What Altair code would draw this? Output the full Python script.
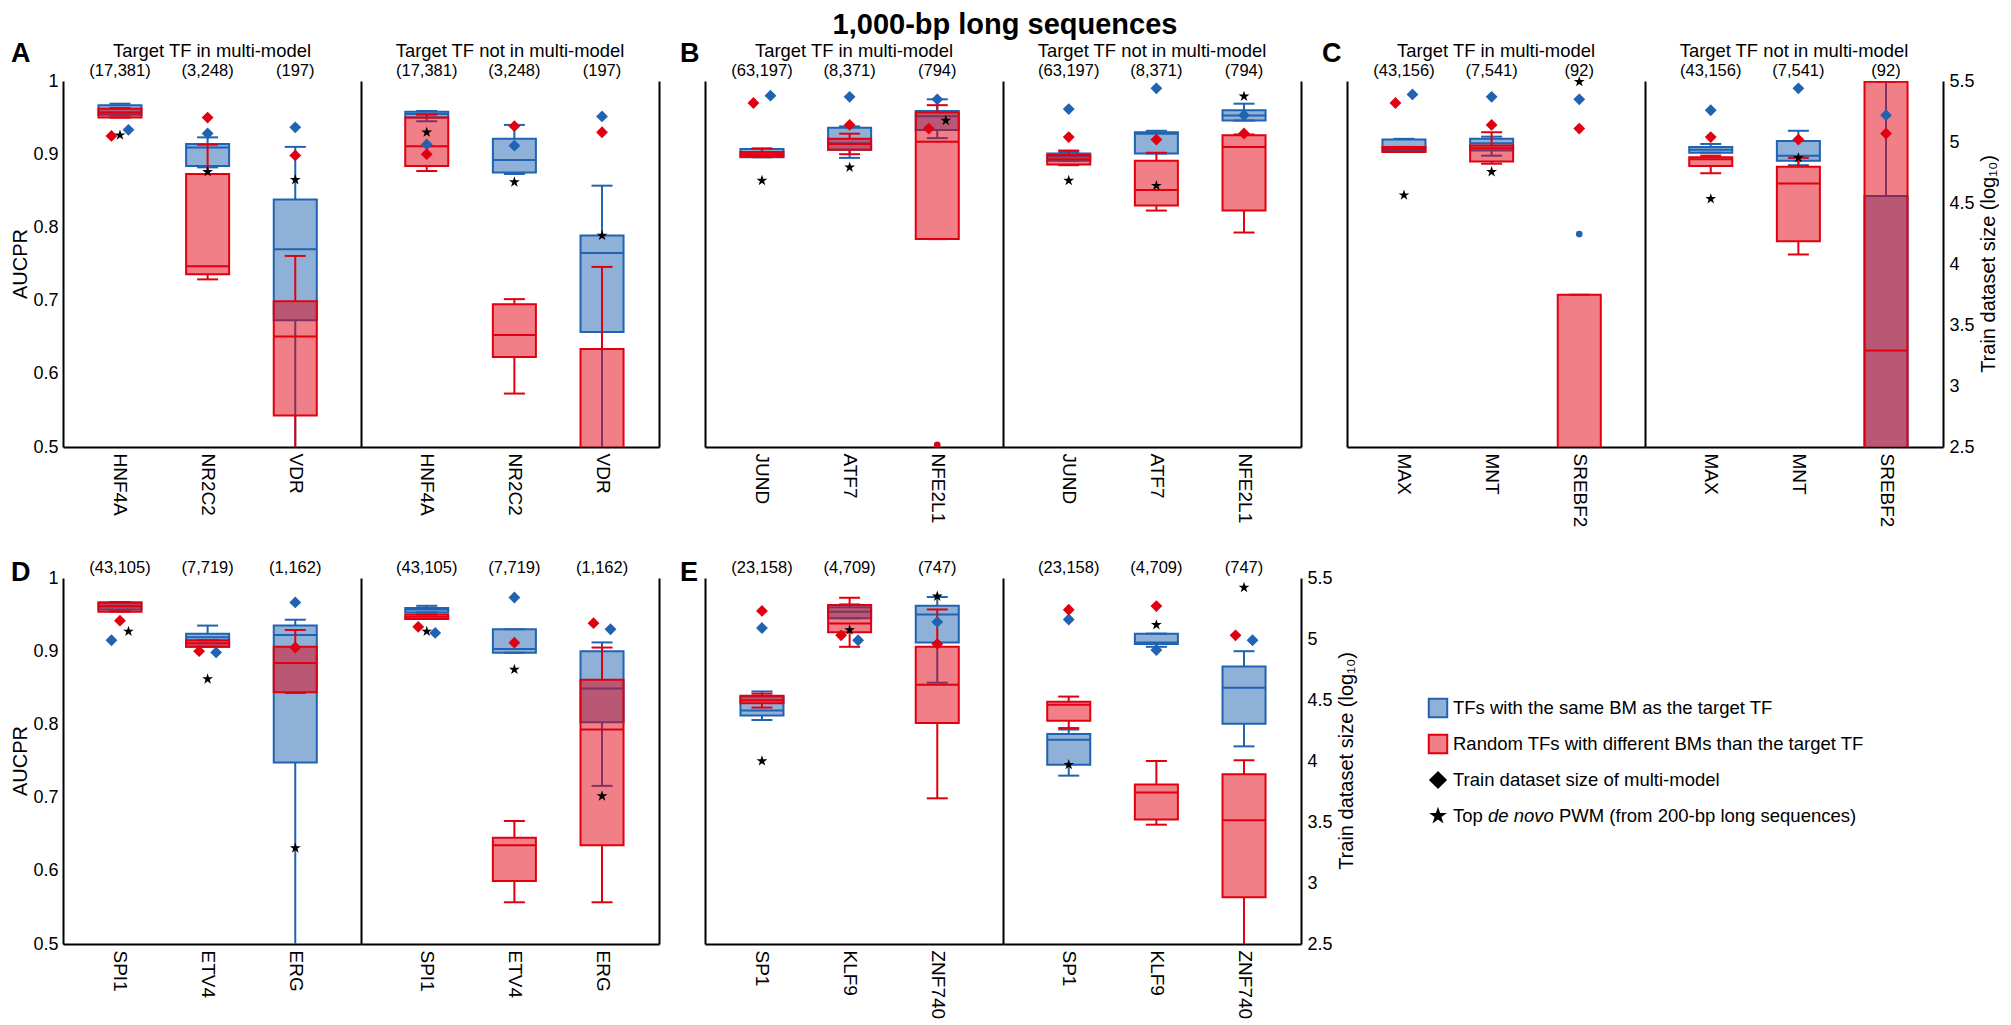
import json

import altair as alt
import pandas as pd

FONT = "Liberation Sans"
BLUE = "#1f63b1"
RED = "#e1000f"
STAR = ("M0,-1L0.2245,-0.309L0.951,-0.309L0.363,0.118L0.588,0.809L0,0.382"
        "L-0.588,0.809L-0.363,0.118L-0.951,-0.309L-0.2245,-0.309Z")

# ---- values ----
# boxes: [min, q1, median, q3, max] of AUCPR per TF (below 0.5 runs off the axis)
# diamonds: log10 train dataset size of the multi-model (right-hand scale)
# stars: AUCPR of the top de novo PWM

TITLE = "1,000-bp long sequences"
SUB_IN = "Target TF in multi-model"
SUB_OUT = "Target TF not in multi-model"
Y_TITLE = "AUCPR"
SIZE_TITLE = "Train dataset size (log₁₀)"
Y_TICKS = [0.5, 0.6, 0.7, 0.8, 0.9, 1.0]
SIZE_TICKS = [2.5, 3.0, 3.5, 4.0, 4.5, 5.0, 5.5]

TFS_A = ["HNF4A", "NR2C2", "VDR"]
COUNTS_A = ["(17,381)", "(3,248)", "(197)"]
A_IN_BLUE = [[0.953, 0.954, 0.957, 0.967, 0.969], [0.882, 0.884, 0.909, 0.914, 0.923], [0.40, 0.673, 0.770, 0.838, 0.910]]
A_IN_RED = [[0.950, 0.950, 0.957, 0.962, 0.963], [0.729, 0.736, 0.747, 0.873, 0.913], [0.40, 0.543, 0.651, 0.699, 0.761]]
A_IN_STAR = [0.926, 0.876, 0.865]
A_IN_DIA_BLUE = [5.10, 5.07, 5.12]
A_IN_DIA_RED = [5.05, 5.20, 4.89]
A_OUT_BLUE = [[0.945, 0.950, 0.955, 0.958, 0.959], [0.873, 0.875, 0.892, 0.921, 0.940], [0.40, 0.657, 0.765, 0.789, 0.857]]
A_OUT_RED = [[0.877, 0.884, 0.911, 0.950, 0.954], [0.573, 0.623, 0.653, 0.695, 0.702], [0.40, 0.42, 0.45, 0.634, 0.746]]
A_OUT_STAR = [0.930, 0.862, 0.789]
A_OUT_DIA_BLUE = [4.98, 4.97, 5.21]
A_OUT_DIA_RED = [4.90, 5.13, 5.08]

TFS_B = ["JUND", "ATF7", "NFE2L1"]
COUNTS_B = ["(63,197)", "(8,371)", "(794)"]
B_IN_BLUE = [[0.896, 0.896, 0.899, 0.907, 0.907], [0.895, 0.906, 0.915, 0.936, 0.938], [0.922, 0.933, 0.952, 0.959, 0.975]]
B_IN_RED = [[0.896, 0.897, 0.900, 0.903, 0.908], [0.900, 0.906, 0.914, 0.921, 0.928], [0.784, 0.784, 0.917, 0.957, 0.967]]
B_IN_RED_DOTS = [None, None, 0.503]
B_IN_STAR = [0.864, 0.882, 0.946]
B_IN_DIA_BLUE = [5.38, 5.37, 5.35]
B_IN_DIA_RED = [5.32, 5.14, 5.11]
B_OUT_BLUE = [[0.891, 0.891, 0.897, 0.901, 0.903], [0.901, 0.901, 0.928, 0.930, 0.932], [0.946, 0.946, 0.953, 0.960, 0.969]]
B_OUT_RED = [[0.885, 0.886, 0.893, 0.899, 0.905], [0.823, 0.830, 0.851, 0.891, 0.902], [0.793, 0.823, 0.910, 0.926, 0.927]]
B_OUT_STAR = [0.864, 0.857, 0.979]
B_OUT_DIA_BLUE = [5.27, 5.44, 5.22]
B_OUT_DIA_RED = [5.04, 5.02, 5.07]

TFS_C = ["MAX", "MNT", "SREBF2"]
COUNTS_C = ["(43,156)", "(7,541)", "(92)"]
C_IN_BLUE = [[0.905, 0.905, 0.907, 0.920, 0.921], [0.898, 0.905, 0.915, 0.921, 0.924], None]
C_IN_BLUE_DOTS = [None, None, 0.791]
C_IN_RED = [[0.903, 0.903, 0.907, 0.910, 0.910], [0.887, 0.890, 0.908, 0.912, 0.930], [0.40, 0.40, 0.45, 0.708, 0.708]]
C_IN_STAR = [0.844, 0.876, 0.999]
C_IN_DIA_BLUE = [5.39, 5.37, 5.35]
C_IN_DIA_RED = [5.32, 5.14, 5.11]
C_OUT_BLUE = [[0.902, 0.902, 0.906, 0.910, 0.914], [0.885, 0.891, 0.898, 0.918, 0.932], [0.40, 0.40, 0.45, 0.843, 1.0]]
C_OUT_RED = [[0.874, 0.884, 0.893, 0.896, 0.898], [0.763, 0.781, 0.860, 0.883, 0.895], [0.40, 0.40, 0.632, 0.999, 0.999]]
C_OUT_STAR = [0.839, 0.895, None]
C_OUT_DIA_BLUE = [5.26, 5.44, 5.22]
C_OUT_DIA_RED = [5.04, 5.02, 5.07]

TFS_D = ["SPI1", "ETV4", "ERG"]
COUNTS_D = ["(43,105)", "(7,719)", "(1,162)"]
D_IN_BLUE = [[0.955, 0.957, 0.962, 0.966, 0.967], [0.906, 0.906, 0.919, 0.924, 0.935], [0.40, 0.748, 0.922, 0.935, 0.943]]
D_IN_RED = [[0.954, 0.954, 0.961, 0.967, 0.967], [0.906, 0.906, 0.911, 0.915, 0.915], [0.843, 0.844, 0.884, 0.906, 0.929]]
D_IN_STAR = [0.927, 0.862, 0.631]
D_IN_DIA_BLUE = [4.99, 4.89, 5.30]
D_IN_DIA_RED = [5.15, 4.90, 4.93]
D_OUT_BLUE = [[0.953, 0.953, 0.957, 0.959, 0.962], [0.898, 0.898, 0.903, 0.930, 0.930], [0.716, 0.803, 0.849, 0.900, 0.912]]
D_OUT_RED = [[0.944, 0.944, 0.947, 0.950, 0.950], [0.557, 0.586, 0.635, 0.645, 0.668], [0.557, 0.635, 0.793, 0.861, 0.905]]
D_OUT_STAR = [0.927, 0.875, 0.702]
D_OUT_DIA_BLUE = [5.05, 5.34, 5.08]
D_OUT_DIA_RED = [5.10, 4.97, 5.13]

TFS_E = ["SP1", "KLF9", "ZNF740"]
COUNTS_E = ["(23,158)", "(4,709)", "(747)"]
E_IN_BLUE = [[0.806, 0.812, 0.819, 0.838, 0.845], [0.945, 0.945, 0.954, 0.960, 0.964], [0.857, 0.912, 0.950, 0.962, 0.974]]
E_IN_RED = [[0.823, 0.829, 0.833, 0.839, 0.842], [0.906, 0.926, 0.938, 0.963, 0.973], [0.699, 0.802, 0.854, 0.906, 0.957]]
E_IN_STAR = [0.750, 0.929, 0.975]
E_IN_DIA_BLUE = [5.09, 4.99, 5.14]
E_IN_DIA_RED = [5.23, 5.03, 4.96]
E_OUT_BLUE = [[0.730, 0.745, 0.779, 0.787, 0.793], [0.906, 0.910, 0.912, 0.924, 0.924], [0.770, 0.801, 0.850, 0.879, 0.900]]
E_OUT_RED = [[0.795, 0.805, 0.827, 0.831, 0.838], [0.663, 0.670, 0.707, 0.718, 0.750], [0.40, 0.564, 0.669, 0.732, 0.751]]
E_OUT_STAR = [0.745, 0.936, 0.987]
E_OUT_DIA_BLUE = [5.16, 4.91, 4.99]
E_OUT_DIA_RED = [5.24, 5.27, 5.03]

LEGEND_LABELS = [
    "TFs with the same BM as the target TF",
    "Random TFs with different BMs than the target TF",
    "Train dataset size of multi-model",
    "Top",
]
LEGEND_ITALIC = "de novo"
LEGEND_TAIL = "PWM (from 200-bp long sequences)"

# ---- layout ----
W, H = 298, 366
STEP = 87.6
IN_DOMAIN = [-0.65, 2.75]
OUT_DOMAIN = [-0.75, 2.65]
BOX_HALF = 21.5 / STEP
CAP_HALF = 10.5 / STEP
DODGE = 8.5 / STEP
NEAR = 0.0125


def to_auc(size):
    # right axis 2.5..5.5 sits on the same height as AUCPR 0.5..1
    return 0.5 + (size - 2.5) / 6


def dodge(star, d_blue, d_red):
    off = {"blue": 0, "red": 0, "star": 0}
    if abs(to_auc(d_blue) - to_auc(d_red)) < NEAR:
        off["red"], off["blue"] = -1, 1
    elif star is not None:
        for key, d in (("red", d_red), ("blue", d_blue)):
            if off["star"] == 0 and abs(to_auc(d) - star) < NEAR:
                off[key], off["star"] = -1, 1
    return off


def box_frames(stats_list):
    boxes, whiskers, caps = [], [], []
    for i, s in enumerate(stats_list):
        if s is None:
            continue
        lo, q1, med, q3, hi = s
        boxes.append({"x1": i - BOX_HALF, "x2": i + BOX_HALF, "q1": q1, "q3": q3, "med": med})
        whiskers += [{"xc": i, "y1": lo, "y2": q1}, {"xc": i, "y1": q3, "y2": hi}]
        caps += [{"x1": i - CAP_HALF, "x2": i + CAP_HALF, "y": lo},
                 {"x1": i - CAP_HALF, "x2": i + CAP_HALF, "y": hi}]
    return pd.DataFrame(boxes), pd.DataFrame(whiskers), pd.DataFrame(caps)


def label_mark(text, x, y, size, **kw):
    return alt.Chart(pd.DataFrame({"t": [text]})).mark_text(
        font=FONT, fontSize=size, color="black", **kw).encode(
        x=alt.value(x), y=alt.value(y), text="t:N")


def subpanel(tfs, counts, blue, red, stars, dia_blue, dia_red, side,
             letter=None, letter_x=-25, letter_y=-19, y_labels=False,
             size_labels=False, title=None, blue_dots=None, red_dots=None):
    domain = IN_DOMAIN if side == "in" else OUT_DOMAIN
    x_axis = alt.Axis(values=[0, 1, 2], labelExpr=f"{json.dumps(tfs)}[datum.value]",
                      labelAngle=90, labelFontSize=19, labelPadding=6, labelOverlap=False,
                      labelFlush=False, ticks=False, grid=False, domainColor="black",
                      domainWidth=2, title=None)
    y_axis = alt.Axis(values=Y_TICKS, format=".1~f", labels=y_labels, ticks=False, grid=False,
                      domainColor="black", domainWidth=2, labelFontSize=18, labelPadding=5,
                      title=None)

    def X(field):
        return alt.X(f"{field}:Q", scale=alt.Scale(domain=domain, nice=False, zero=False), axis=x_axis)

    def Y(field):
        return alt.Y(f"{field}:Q", scale=alt.Scale(domain=[0.5, 1.0], nice=False, zero=False), axis=y_axis)

    layers = []
    for stats_list, color in ((blue, BLUE), (red, RED)):
        boxes, whiskers, caps = box_frames(stats_list)
        layers += [
            alt.Chart(whiskers).mark_rule(color=color, strokeWidth=2, clip=True).encode(
                x=X("xc"), y=Y("y1"), y2="y2:Q"),
            alt.Chart(caps).mark_rule(color=color, strokeWidth=2, clip=True).encode(
                x=X("x1"), x2="x2:Q", y=Y("y")),
            alt.Chart(boxes).mark_rect(fill=color, fillOpacity=0.5, stroke=color, strokeWidth=2,
                                       clip=True).encode(x=X("x1"), x2="x2:Q", y=Y("q1"), y2="q3:Q"),
            alt.Chart(boxes).mark_rule(color=color, strokeWidth=2, clip=True).encode(
                x=X("x1"), x2="x2:Q", y=Y("med")),
        ]
    for dots, color in ((blue_dots, BLUE), (red_dots, RED)):
        if dots:
            df = pd.DataFrame([{"x": i, "v": v} for i, v in enumerate(dots) if v is not None])
            layers.append(alt.Chart(df).mark_circle(color=color, size=45, opacity=1, clip=True).encode(
                x=X("x"), y=Y("v")))

    star_rows, dia_rows = [], []
    for i in range(3):
        off = dodge(stars[i], dia_blue[i], dia_red[i])
        if stars[i] is not None:
            star_rows.append({"x": i + off["star"] * DODGE, "v": stars[i]})
        dia_rows.append({"x": i + off["blue"] * DODGE, "size": dia_blue[i], "grp": "blue"})
        dia_rows.append({"x": i + off["red"] * DODGE, "size": dia_red[i], "grp": "red"})

    layers.append(alt.Chart(pd.DataFrame(star_rows)).mark_point(
        shape=STAR, filled=True, color="black", size=130, opacity=1).encode(x=X("x"), y=Y("v")))

    layers.append(alt.Chart(pd.DataFrame({"xc": [0, 1, 2], "label": counts})).mark_text(
        font=FONT, fontSize=16.5, baseline="bottom", color="black").encode(
        x=X("xc"), y=alt.value(-2), text="label:N"))

    if title:
        layers.append(label_mark(title, W / 2, -24, 18.4, align="center", baseline="alphabetic"))
    if letter:
        layers.append(label_mark(letter, letter_x, letter_y, 27, fontWeight="bold",
                                 align="left", baseline="alphabetic"))
    if y_labels:
        layers.append(label_mark(Y_TITLE, -42, H / 2, 20, angle=270, align="center",
                                 baseline="middle"))
    if size_labels:
        layers.append(label_mark(SIZE_TITLE, W + 46, H / 2, 20, angle=270, align="center",
                                 baseline="middle"))

    if side == "in":
        size_axis = None
    else:
        size_axis = alt.Axis(orient="right", values=SIZE_TICKS, format=".1~f", labels=size_labels,
                             ticks=False, grid=False, domainColor="black", domainWidth=2,
                             labelFontSize=18, labelPadding=6, title=None)
    diamonds = alt.Chart(pd.DataFrame(dia_rows)).mark_point(
        shape="diamond", filled=True, size=140, opacity=1).encode(
        x=X("x"),
        y=alt.Y("size:Q", scale=alt.Scale(domain=[2.5, 5.5], nice=False, zero=False), axis=size_axis),
        color=alt.Color("grp:N", scale=alt.Scale(domain=["blue", "red"], range=[BLUE, RED]), legend=None),
    )

    chart = alt.layer(alt.layer(*layers), diamonds).resolve_scale(y="independent")
    return chart.properties(width=W, height=H)


A_in = subpanel(TFS_A, COUNTS_A, A_IN_BLUE, A_IN_RED, A_IN_STAR, A_IN_DIA_BLUE, A_IN_DIA_RED, "in",
                letter="A", letter_x=-52, y_labels=True, title=SUB_IN)
A_out = subpanel(TFS_A, COUNTS_A, A_OUT_BLUE, A_OUT_RED, A_OUT_STAR, A_OUT_DIA_BLUE, A_OUT_DIA_RED,
                 "out", title=SUB_OUT)
B_in = subpanel(TFS_B, COUNTS_B, B_IN_BLUE, B_IN_RED, B_IN_STAR, B_IN_DIA_BLUE, B_IN_DIA_RED, "in",
                letter="B", title=SUB_IN, red_dots=B_IN_RED_DOTS)
B_out = subpanel(TFS_B, COUNTS_B, B_OUT_BLUE, B_OUT_RED, B_OUT_STAR, B_OUT_DIA_BLUE, B_OUT_DIA_RED,
                 "out", title=SUB_OUT)
C_in = subpanel(TFS_C, COUNTS_C, C_IN_BLUE, C_IN_RED, C_IN_STAR, C_IN_DIA_BLUE, C_IN_DIA_RED, "in",
                letter="C", title=SUB_IN, blue_dots=C_IN_BLUE_DOTS)
C_out = subpanel(TFS_C, COUNTS_C, C_OUT_BLUE, C_OUT_RED, C_OUT_STAR, C_OUT_DIA_BLUE, C_OUT_DIA_RED,
                 "out", size_labels=True, title=SUB_OUT)

D_in = subpanel(TFS_D, COUNTS_D, D_IN_BLUE, D_IN_RED, D_IN_STAR, D_IN_DIA_BLUE, D_IN_DIA_RED, "in",
                letter="D", letter_x=-52, letter_y=3, y_labels=True)
D_out = subpanel(TFS_D, COUNTS_D, D_OUT_BLUE, D_OUT_RED, D_OUT_STAR, D_OUT_DIA_BLUE, D_OUT_DIA_RED, "out")
E_in = subpanel(TFS_E, COUNTS_E, E_IN_BLUE, E_IN_RED, E_IN_STAR, E_IN_DIA_BLUE, E_IN_DIA_RED, "in",
                letter="E", letter_y=3)
E_out = subpanel(TFS_E, COUNTS_E, E_OUT_BLUE, E_OUT_RED, E_OUT_STAR, E_OUT_DIA_BLUE, E_OUT_DIA_RED,
                 "out", size_labels=True)

# legend drawn as its own little chart
LEG_W = 560
LEG_TOP = 130
LEG_STEP = 36
TEXT_X = 25
leg = pd.DataFrame({"label": LEGEND_LABELS})
leg["y"] = LEG_TOP + leg.index * LEG_STEP
ly = alt.Y("y:Q", scale=alt.Scale(domain=[0, H], range=[0, H]), axis=None)

symbol_styles = [
    dict(shape="square", fill=BLUE, fillOpacity=0.5, stroke=BLUE, strokeWidth=2, size=340),
    dict(shape="square", fill=RED, fillOpacity=0.5, stroke=RED, strokeWidth=2, size=340),
    dict(shape="diamond", fill="black", strokeWidth=0, size=330),
    dict(shape=STAR, fill="black", strokeWidth=0, size=350),
]
legend_layers = [
    alt.Chart(leg.iloc[[k]]).mark_point(filled=True, opacity=1, **style).encode(x=alt.value(10), y=ly)
    for k, style in enumerate(symbol_styles)
]
legend_layers.append(alt.Chart(leg).mark_text(
    font=FONT, fontSize=18.5, align="left", baseline="middle", color="black").encode(
    x=alt.value(TEXT_X), y=ly, text="label:N"))
last_y = LEG_TOP + 3 * LEG_STEP
legend_layers.append(alt.Chart(pd.DataFrame({"t": [LEGEND_ITALIC], "y": [last_y]})).mark_text(
    font=FONT, fontSize=18.5, fontStyle="italic", align="left", baseline="middle", color="black"
).encode(x=alt.value(TEXT_X + 35), y=ly, text="t:N"))
legend_layers.append(alt.Chart(pd.DataFrame({"t": [LEGEND_TAIL], "y": [last_y]})).mark_text(
    font=FONT, fontSize=18.5, align="left", baseline="middle", color="black"
).encode(x=alt.value(TEXT_X + 106), y=ly, text="t:N"))
legend = alt.layer(*legend_layers).properties(width=LEG_W, height=H)

top = alt.hconcat(
    alt.hconcat(A_in, A_out, spacing=0),
    alt.hconcat(B_in, B_out, spacing=0),
    alt.hconcat(C_in, C_out, spacing=0),
    spacing=21,
)
bottom = alt.hconcat(
    alt.hconcat(alt.hconcat(D_in, D_out, spacing=0), alt.hconcat(E_in, E_out, spacing=0), spacing=21),
    legend,
    spacing=67,
)

chart = (
    alt.vconcat(top, bottom, spacing=32)
    .properties(
        title=alt.TitleParams(TITLE, font=FONT, fontSize=29, fontWeight="bold", color="black",
                              anchor="middle", offset=0),
        padding={"left": 3, "top": 3, "right": 0, "bottom": 0},
    )
    .configure_view(stroke=None)
    .configure_axis(labelFont=FONT, titleFont=FONT, labelColor="black", titleColor="black")
)

chart.save("out.html", embed_options={"renderer": "svg", "actions": False})
